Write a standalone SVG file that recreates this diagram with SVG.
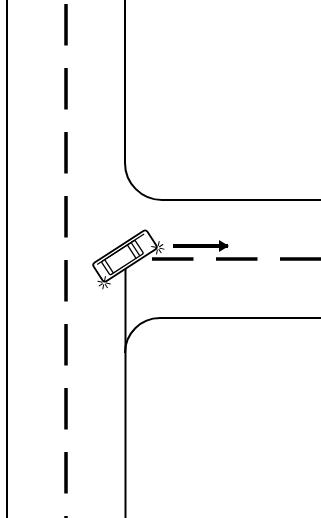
<svg xmlns="http://www.w3.org/2000/svg" width="321" height="518" viewBox="0 0 321 518">
  <style>
    .edge { fill: none; stroke: #000; stroke-width: 2; }
    .lane { fill: none; stroke: #000; stroke-width: 3.5; stroke-dasharray: 41.5 22.5; }
    .car { fill: #fff; stroke: #000; stroke-width: 1.8; }
    .carline { fill: none; stroke: #000; stroke-width: 1.3; }
    .burst { stroke: #000; stroke-width: 1; stroke-linecap: round; }
  </style>
  <defs>
    <marker id="head" viewBox="0 0 10 12" refX="9" refY="6" markerWidth="10" markerHeight="12" markerUnits="userSpaceOnUse" orient="auto">
      <path d="M0,0 L10,6 L0,12 Z" fill="#000"/>
    </marker>
    <g id="starburst">
      <line class="burst" x1="2" y1="0" x2="6" y2="0"/>
      <line class="burst" x1="-2" y1="0" x2="-6" y2="0"/>
      <line class="burst" x1="0" y1="2" x2="0" y2="6"/>
      <line class="burst" x1="0" y1="-2" x2="0" y2="-6"/>
      <line class="burst" x1="1.5" y1="1.5" x2="4.5" y2="4.5"/>
      <line class="burst" x1="-1.5" y1="-1.5" x2="-4.5" y2="-4.5"/>
      <line class="burst" x1="1.5" y1="-1.5" x2="4.5" y2="-4.5"/>
      <line class="burst" x1="-1.5" y1="1.5" x2="-4.5" y2="4.5"/>
    </g>
  </defs>

  <rect width="321" height="518" fill="#fff"/>

  <!-- road edges and lane markings -->
  <g id="roads">
    <line class="edge" x1="7" y1="0" x2="7" y2="518"/>
    <line class="lane" x1="66" y1="4" x2="66" y2="518"/>
    <path class="edge" d="M125,0 V163 A37,37 0 0 0 162,200 H321"/>
    <path class="edge" d="M321,318 H160 A35,35 0 0 0 125,353"/>
    <line class="edge" x1="125.5" y1="268" x2="125.5" y2="518"/>
    <line class="lane" x1="152" y1="259" x2="321" y2="259"/>
  </g>

  <!-- direction of travel -->
  <g id="connectors">
    <line x1="173" y1="246" x2="228" y2="246" stroke="#000" stroke-width="4" marker-end="url(#head)"/>
  </g>

  <!-- vehicle with impact points -->
  <g id="vehicle" transform="translate(125,256) rotate(-33)">
    <rect class="car" x="-32" y="-11" width="64" height="22" rx="3"/>
    <line class="carline" x1="-28" y1="-8" x2="28" y2="-8"/>
    <rect class="carline" x="-23" y="-8" width="40" height="16" rx="1.5"/>
    <line class="carline" x1="-19" y1="-8" x2="-19" y2="8"/>
    <line class="carline" x1="8" y1="-8" x2="8" y2="8"/>
    <line class="carline" x1="12.5" y1="-8" x2="12.5" y2="8"/>
    <use href="#starburst" x="32" y="11"/>
    <use href="#starburst" x="-32" y="11"/>
  </g>
</svg>
